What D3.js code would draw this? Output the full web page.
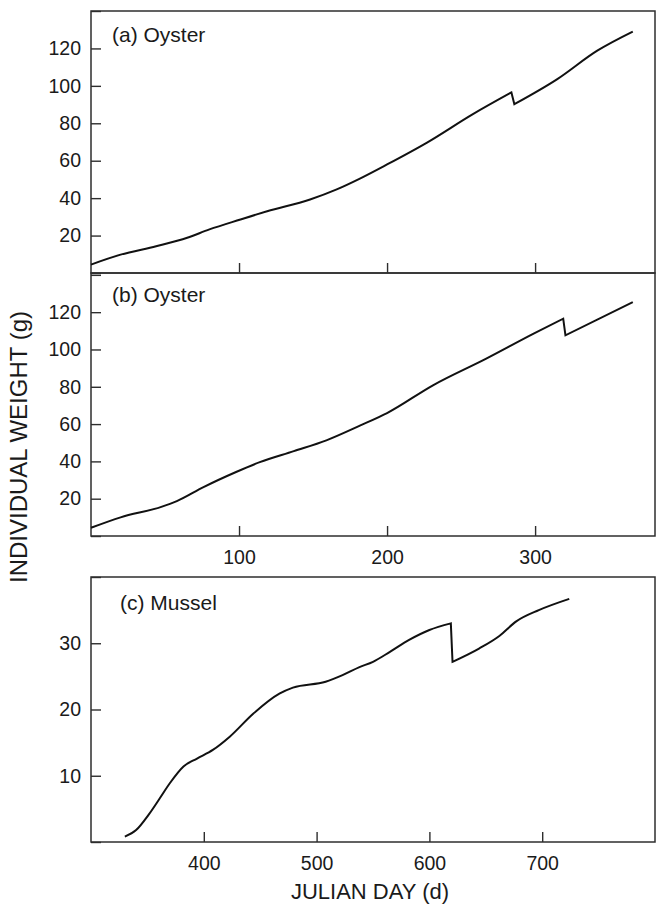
<!DOCTYPE html>
<html>
<head>
<meta charset="utf-8">
<script src="https://cdn.jsdelivr.net/npm/d3@7"></script>
<style>
  html, body { margin: 0; padding: 0; background: #fff; }
  svg { display: block; }
  text { font-family: "Liberation Sans", Arial, sans-serif; fill: #1a1a1a; }
</style>
</head>
<body>
<svg id="chart" width="657" height="904"></svg>
<script>
// Oyster growth, site (a): Julian day vs individual weight (g)
const dayA    = [0, 20, 44, 65, 80, 101, 119, 148, 166, 182, 200, 227, 258, 284, 286, 315, 342, 366];
const weightA = [4.5, 9.8, 14.3, 18.8, 23.3, 28.6, 33, 39.3, 44.7, 50.6, 58, 69.7, 84.9, 96.5, 90.2, 103.6, 118.8, 129];

// Oyster growth, site (b)
const dayB    = [0, 20, 47, 58, 76, 98, 114, 137, 159, 182, 200, 231, 267, 299, 319, 320.5, 366];
const weightB = [4.4, 10, 15.5, 18.7, 26.2, 34.3, 39.6, 45.5, 51.3, 59.3, 65.9, 80.8, 95.1, 108.5, 116.5, 107.6, 125.4];

// Mussel growth (c)
const dayC    = [330, 340, 351, 361, 370, 382, 394, 408, 423, 444, 467, 479, 508, 523, 538, 550, 565, 582, 600, 619, 620.5, 644, 662, 677, 697, 724];
const weightC = [0.8, 1.8, 4.1, 6.6, 8.9, 11.4, 12.6, 13.9, 15.9, 19.4, 22.4, 23.3, 24.2, 25.2, 26.4, 27.2, 28.7, 30.5, 32, 33, 27.2, 29.2, 31.1, 33.3, 35, 36.7];

// Axis ticks and labels
const xTicksOyster = [100, 200, 300];
const xTicksMussel = [400, 500, 600, 700];
const yTicksOyster = [0, 20, 40, 60, 80, 100, 120, 140];
const yLabelsOyster = [20, 40, 60, 80, 100, 120];
const yTicksMussel = [0, 10, 20, 30, 40];
const yLabelsMussel = [10, 20, 30];

const panelLabels = ["(a) Oyster", "(b) Oyster", "(c) Mussel"];
const xTitle = "JULIAN DAY (d)";
const yTitle = "INDIVIDUAL WEIGHT (g)";

const svg = d3.select("#chart");
const left = 91, right = 655;
const frameColor = "#2e2e2e";
const tickFont = 19.5;

const panels = [
  { top: 11,  bottom: 273, xDomain: [0, 381],   yDomain: [0, 140], xTicks: xTicksOyster, xLabels: false,
    yTicks: yTicksOyster, yLabels: yLabelsOyster, days: dayA, weights: weightA, label: panelLabels[0], lx: 112, ly: 42 },
  { top: 273, bottom: 536, xDomain: [0, 381],   yDomain: [0, 141], xTicks: xTicksOyster, xLabels: true,
    yTicks: yTicksOyster, yLabels: yLabelsOyster, days: dayB, weights: weightB, label: panelLabels[1], lx: 112, ly: 302 },
  { top: 577, bottom: 842, xDomain: [300, 800], yDomain: [0, 40],  xTicks: xTicksMussel, xLabels: true,
    yTicks: yTicksMussel, yLabels: yLabelsMussel, days: dayC, weights: weightC, label: panelLabels[2], lx: 120, ly: 610 }
];

// Split a growth series wherever the weight falls (sampling/harvest drop),
// so each rising stretch is smoothed on its own and the drop stays sharp.
function segmentsOf(days, weights) {
  const segs = [[]];
  days.forEach((d, i) => {
    if (i > 0 && weights[i] < weights[i - 1]) segs.push([]);
    segs[segs.length - 1].push([d, weights[i]]);
  });
  return segs;
}

panels.forEach(p => {
  const x = d3.scaleLinear().domain(p.xDomain).range([left, right]);
  const y = d3.scaleLinear().domain(p.yDomain).range([p.bottom, p.top]);
  const g = svg.append("g");

  // y axis: inward ticks, labels on the outside
  const yAxis = d3.axisLeft(y)
    .tickValues(p.yTicks.filter(v => v <= p.yDomain[1]))
    .tickSize(-10)
    .tickPadding(10)
    .tickFormat(d => p.yLabels.includes(d) ? d : "");
  const ya = g.append("g").attr("transform", `translate(${left},0)`).call(yAxis);
  ya.select(".domain").remove();
  ya.selectAll("line").attr("stroke", frameColor).attr("stroke-width", 1.4);
  ya.selectAll("text").attr("font-size", tickFont).attr("fill", "#1a1a1a")
    .attr("font-family", "Liberation Sans, Arial, sans-serif");

  // x axis: inward ticks from the bottom edge
  const xAxis = d3.axisBottom(x)
    .tickValues(p.xTicks)
    .tickSize(-10)
    .tickPadding(14)
    .tickFormat(d => p.xLabels ? d : "");
  const xa = g.append("g").attr("transform", `translate(0,${p.bottom})`).call(xAxis);
  xa.select(".domain").remove();
  xa.selectAll("line").attr("stroke", frameColor).attr("stroke-width", 1.4);
  xa.selectAll("text").attr("font-size", tickFont).attr("fill", "#1a1a1a")
    .attr("font-family", "Liberation Sans, Arial, sans-serif");

  // panel frame
  g.append("rect")
    .attr("x", left).attr("y", p.top)
    .attr("width", right - left).attr("height", p.bottom - p.top)
    .attr("fill", "none").attr("stroke", frameColor).attr("stroke-width", 1.5);

  // growth curve: smooth rising stretches joined by straight drops
  const line = d3.line()
    .x(d => x(d[0]))
    .y(d => y(d[1]))
    .curve(d3.curveMonotoneX);
  const pathD = segmentsOf(p.days, p.weights)
    .map((seg, i) => {
      const s = line(seg);
      return i === 0 ? s : "L" + s.slice(1);
    })
    .join("");
  g.append("path")
    .attr("d", pathD)
    .attr("fill", "none")
    .attr("stroke", "#111")
    .attr("stroke-width", 2)
    .attr("stroke-linejoin", "miter");

  g.append("text")
    .attr("x", p.lx).attr("y", p.ly)
    .attr("font-size", 21)
    .text(p.label);
});

// axis titles
svg.append("text")
  .attr("x", 370).attr("y", 899)
  .attr("text-anchor", "middle")
  .attr("font-size", 22)
  .text(xTitle);

svg.append("text")
  .attr("transform", "translate(27,447) rotate(-90)")
  .attr("text-anchor", "middle")
  .attr("font-size", 24)
  .text(yTitle);
</script>
</body>
</html>
